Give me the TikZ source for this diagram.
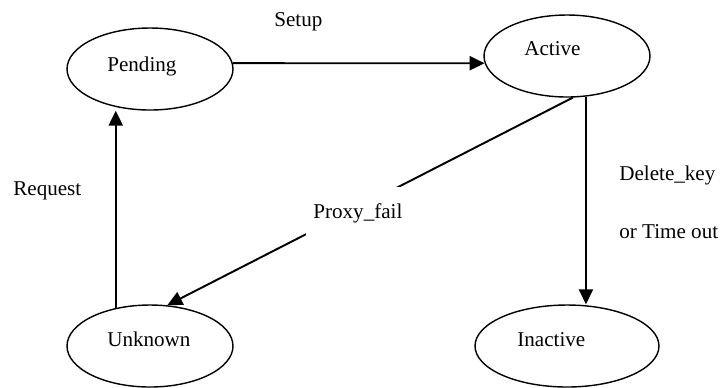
\documentclass[tikz,border=0pt]{standalone}
\usepackage{fontspec}
\setmainfont{Liberation Serif}
\usetikzlibrary{shapes.geometric,arrows.meta}
\begin{document}
\begin{tikzpicture}[x=0.02cm,y=-0.02cm,font=\fontsize{12pt}{14pt}\selectfont]
\tikzstyle{state}=[ellipse,draw,line width=0.8pt,minimum width=3.32cm,minimum height=1.64cm,inner sep=0pt]
\tikzstyle{txt}=[anchor=base west,inner sep=0pt]
\tikzstyle{trans}=[line width=1.1pt,-{Triangle[length=8.5pt,width=8pt]}]
\useasboundingbox (0,0) rectangle (723,387);
\node[state] (pending) at (150, 69) {};
\node[state] (active) at (567, 56) {};
\node[state] (unknown) at (150, 346) {};
\node[state,minimum width=3.68cm] (inactive) at (567, 346) {};
% state names, set a little off the centre
\node[txt] (pending-name) at (107, 71) {Pending};
\node[txt] (active-name) at (524, 55) {Active};
\node[txt] (unknown-name) at (107, 346) {Unknown};
\node[txt] (inactive-name) at (517, 346) {Inactive};
\path[]
    (pending.4) [trans] edge (active.185)
    (active.295) [trans] edge (active.295 |- inactive.north)
    (active.278) [trans] edge node[pos=0.53,yshift=-3pt,fill=white,inner xsep=4pt,inner ysep=9pt] {Proxy\_fail} (unknown.67)
    (unknown.132) [trans] edge (unknown.132 |- pending.south);
% transition labels
\node[txt] (setup) at (274, 26) {Setup};
\node[txt] (request) at (13, 195) {Request};
\node[txt] (delkey) at (619, 180) {Delete\_key};
\node[txt] (timeout) at (619, 238) {or Time out};
\end{tikzpicture}
\end{document}
